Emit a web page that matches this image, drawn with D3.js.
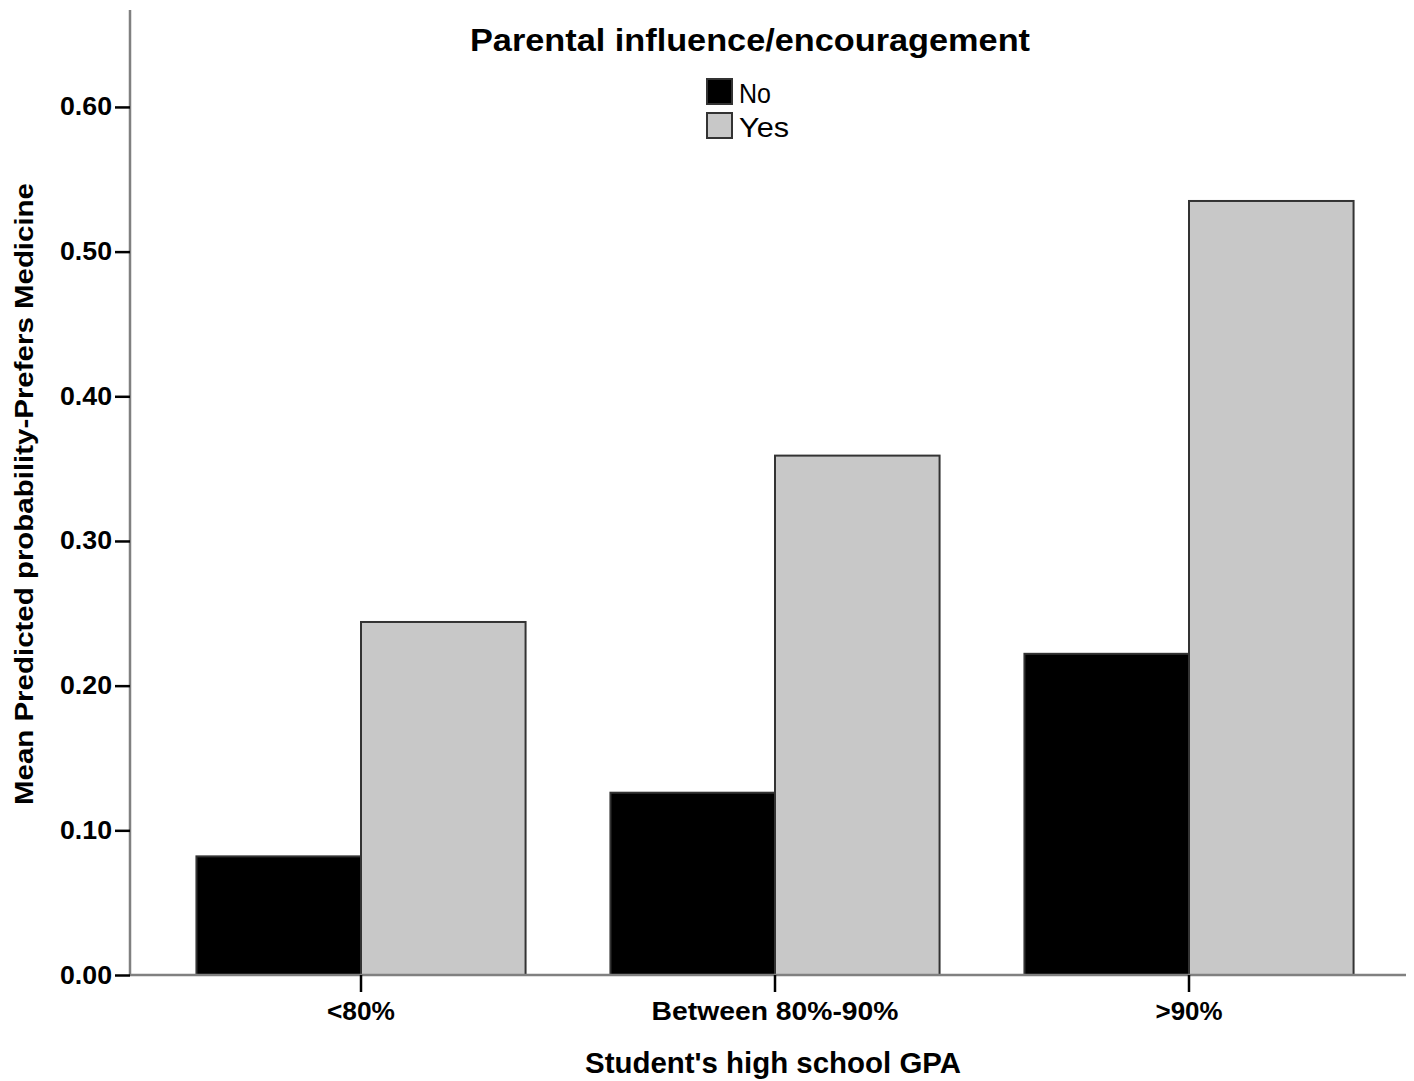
<!DOCTYPE html>
<html><head><meta charset="utf-8">
<script src="https://cdn.jsdelivr.net/npm/d3@7"></script>
<style>body{margin:0;background:#fff}svg{display:block}text{font-family:"Liberation Sans",Arial,sans-serif}</style>
</head><body>
<svg id="c" width="1414" height="1081"></svg>
<script>
const categories = ["<80%", "Between 80%-90%", ">90%"];
const seriesNames = ["No", "Yes"];
const valuesNo = [0.082, 0.126, 0.222];
const valuesYes = [0.244, 0.359, 0.535];
const yTicks = [0, 0.1, 0.2, 0.3, 0.4, 0.5, 0.6];
const colors = ["#000000", "#c8c8c8"];

const svg = d3.select("#c");
const y = d3.scaleLinear().domain([0, 0.667]).range([975, 10]);
const x0 = d3.scaleBand().domain(categories).range([154, 1396]).paddingInner(0.205).paddingOuter(0.1025);
const x1 = d3.scaleBand().domain(seriesNames).range([0, x0.bandwidth()]);
const data = categories.map((c, i) => ({cat: c, vals: [valuesNo[i], valuesYes[i]]}));

// bars
const g = svg.append("g");
data.forEach(d => {
  d.vals.forEach((v, j) => {
    g.append("rect")
      .attr("x", x0(d.cat) + x1(seriesNames[j]))
      .attr("y", y(v))
      .attr("width", x1.bandwidth())
      .attr("height", y(0) - y(v))
      .attr("fill", colors[j])
      .attr("stroke", "#333")
      .attr("stroke-width", 2);
  });
});

// axes lines
svg.append("line").attr("x1", 130).attr("x2", 130).attr("y1", y(0.667)).attr("y2", y(0)).attr("stroke", "#808080").attr("stroke-width", 2.5);
svg.append("line").attr("x1", 130).attr("x2", 1406).attr("y1", y(0)).attr("y2", y(0)).attr("stroke", "#808080").attr("stroke-width", 2.5);

// y axis
const yAxis = d3.axisLeft(y).tickValues(yTicks).tickFormat(d3.format(".2f")).tickSize(15).tickPadding(3);
const ya = svg.append("g").attr("transform", "translate(130,0)").call(yAxis);
ya.select(".domain").remove();
ya.selectAll(".tick line").attr("stroke", "#000").attr("stroke-width", 2.5);
ya.selectAll(".tick text").attr("fill", "#000").attr("font-size", 25).attr("font-weight", "bold")
  .attr("textLength", 52).attr("lengthAdjust", "spacingAndGlyphs");

// x axis
const xAxis = d3.axisBottom(x0).tickSize(17).tickPadding(10);
const xa = svg.append("g").attr("transform", `translate(0,${y(0)})`).call(xAxis);
xa.select(".domain").remove();
xa.selectAll(".tick line").attr("stroke", "#000").attr("stroke-width", 2.5);
xa.selectAll(".tick text").attr("fill", "#000").attr("font-size", 25).attr("font-weight", "bold");
xa.selectAll(".tick text").each(function(d){
  const w = {"<80%": 68, "Between 80%-90%": 247, ">90%": 67}[d];
  d3.select(this).attr("textLength", w).attr("lengthAdjust", "spacingAndGlyphs");
});

// axis titles
svg.append("text").attr("x", 773).attr("y", 1073).attr("text-anchor", "middle")
  .attr("font-size", 29).attr("font-weight", "bold").attr("textLength", 376).attr("lengthAdjust", "spacingAndGlyphs")
  .text("Student's high school GPA");
svg.append("text").attr("transform", "translate(33,494) rotate(-90)").attr("text-anchor", "middle")
  .attr("font-size", 25).attr("font-weight", "bold").attr("textLength", 622).attr("lengthAdjust", "spacingAndGlyphs")
  .text("Mean Predicted probability-Prefers Medicine");

// legend
svg.append("text").attr("x", 750).attr("y", 51).attr("text-anchor", "middle")
  .attr("font-size", 32).attr("font-weight", "bold").attr("textLength", 560).attr("lengthAdjust", "spacingAndGlyphs")
  .text("Parental influence/encouragement");
const legW = {"No": 32, "Yes": 50};
seriesNames.forEach((s, i) => {
  const yy = 79 + i * 34;
  svg.append("rect").attr("x", 707).attr("y", yy).attr("width", 25).attr("height", 25)
    .attr("fill", colors[i]).attr("stroke", "#333").attr("stroke-width", 2);
  svg.append("text").attr("x", 739).attr("y", yy + 24).attr("font-size", 28)
    .attr("fill", "#000").attr("textLength", legW[s]).attr("lengthAdjust", "spacingAndGlyphs").text(s);
});
</script>
</body></html>
